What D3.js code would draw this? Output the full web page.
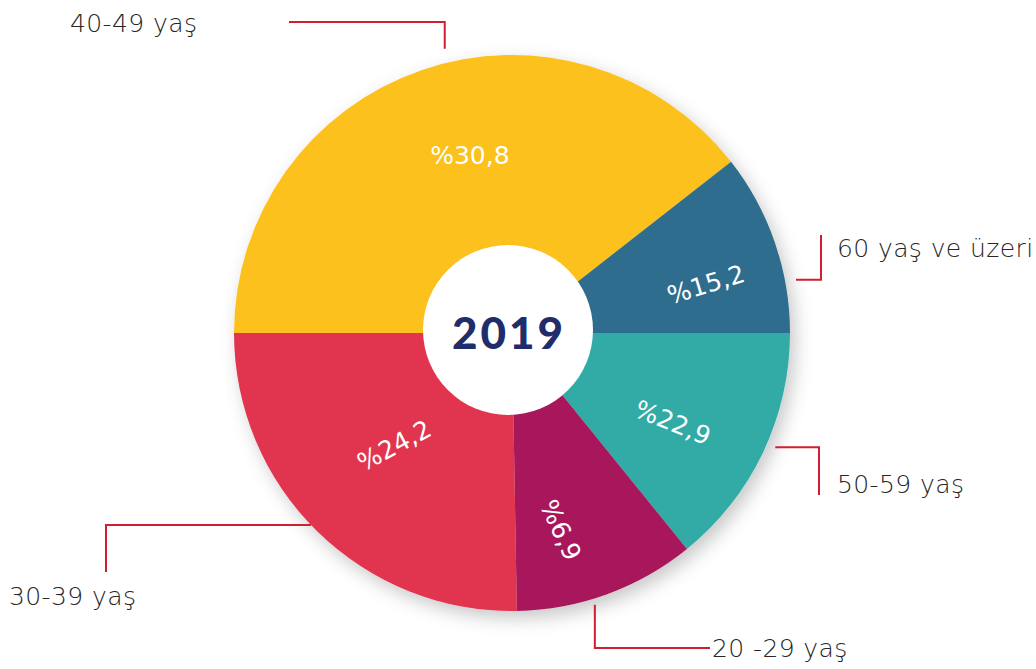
<!DOCTYPE html>
<html>
<head>
<meta charset="utf-8">
<script src="https://cdn.jsdelivr.net/npm/d3@7"></script>
<style>
  body { margin: 0; background: #fff; }
  svg { display: block; }
</style>
</head>
<body>
<div id="chart"></div>
<script>
// age groups, clockwise from the left edge of the pie
var categories = ["40-49 yaş", "60 yaş ve üzeri", "50-59 yaş", "20 -29 yaş", "30-39 yaş"];
var shares = [30.8, 15.2, 22.9, 6.9, 24.2];
// the infographic is not drawn to scale: slice sizes in degrees
var sliceDegrees = [142, 38, 51, 38, 91];
var year = "2019";

var colours = ["#FCC11F", "#2F6D8D", "#33ABA6", "#A8185B", "#E1344F"];

var width = 1036, height = 669;
var cx = 512, cy = 333, radius = 278, holeRadius = 85;

// label layout (style, not data)
var tilt = [0, -17, 22, 65, -28];
var labelPos = [
    {at: 0.54, r: 183},
    {at: 0.63, r: 200},
    {at: 0.57, r: 184},
    {at: 0.66, r: 203},
    {at: 0.52, r: 163}
];
var leaders = [
    {at: 0.54, gap: 14, type: "vh", a: 22, b: 289, tx: 70, ty: 32},
    {at: 0.72, gap: 11, type: "hv", a: 821, b: 235, tx: 837, ty: 257},
    {at: 0.46, gap: 9, type: "hv", a: 819, b: 495, tx: 837, ty: 493},
    {at: 0.58, gap: 6, type: "vh", a: 648, b: 710, tx: 712, ty: 657},
    {at: 0.52, gap: 0, type: "hv", a: 106, b: 572, tx: 9, ty: 605}
];

var rows = categories.map(function (c, i) {
    return {name: c, share: shares[i], deg: sliceDegrees[i], i: i};
});

var svg = d3.select("#chart").append("svg")
    .attr("width", width)
    .attr("height", height);

svg.append("rect").attr("width", width).attr("height", height).attr("fill", "#fff");

var defs = svg.append("defs");
defs.append("filter")
    .attr("id", "shadow")
    .attr("x", "-20%").attr("y", "-20%").attr("width", "140%").attr("height", "140%")
    .append("feDropShadow")
    .attr("dx", 5).attr("dy", 7)
    .attr("stdDeviation", 9)
    .attr("flood-color", "#000")
    .attr("flood-opacity", 0.22);

var pie = d3.pie()
    .sort(null)
    .value(function (d) { return d.deg; })
    .startAngle(-Math.PI / 2)
    .endAngle(Math.PI * 1.5);

var arcs = pie(rows);

var arc = d3.arc().innerRadius(0).outerRadius(radius);

var g = svg.append("g")
    .attr("transform", "translate(" + cx + "," + cy + ")");

g.append("g")
    .attr("filter", "url(#shadow)")
    .selectAll("path")
    .data(arcs)
    .enter().append("path")
    .attr("d", arc)
    .attr("fill", function (d) { return colours[d.data.i]; });

// white hole with the year
g.append("circle")
    .attr("cx", -4).attr("cy", -3)
    .attr("r", holeRadius)
    .attr("fill", "#fff");

g.append("text")
    .attr("x", -3).attr("y", 16)
    .attr("text-anchor", "middle")
    .style("font-family", "Lato, 'DejaVu Sans', sans-serif")
    .style("font-weight", 900)
    .style("font-size", "44px")
    .style("letter-spacing", "3px")
    .style("fill", "#1F2D6B")
    .text(year);

function pointAt(angle, r) {
    return [r * Math.sin(angle), -r * Math.cos(angle)];
}

// percentages inside the slices
g.selectAll(".pct")
    .data(arcs)
    .enter().append("text")
    .attr("class", "pct")
    .attr("transform", function (d) {
        var P = labelPos[d.data.i];
        var c = pointAt(d.startAngle + P.at * (d.endAngle - d.startAngle), P.r);
        return "translate(" + c[0] + "," + c[1] + ") rotate(" + tilt[d.data.i] + ")";
    })
    .attr("text-anchor", "middle")
    .attr("dy", "0.35em")
    .style("font-family", "'DejaVu Sans', sans-serif")
    .style("font-size", "25px")
    .style("fill", "#fff")
    .text(function (d) { return "%" + String(d.data.share).replace(".", ","); });

// leader lines and outside labels
arcs.forEach(function (d) {
    var L = leaders[d.data.i];
    var ang = d.startAngle + L.at * (d.endAngle - d.startAngle);
    var q = pointAt(ang, radius + L.gap);
    var p = [cx + q[0], cy + q[1]];
    var pts;
    if (L.type === "hv") pts = [p, [L.a, p[1]], [L.a, L.b]];
    else pts = [p, [p[0], L.a], [L.b, L.a]];

    svg.append("path")
        .attr("d", d3.line()(pts))
        .attr("fill", "none")
        .attr("stroke", "#CF1F32")
        .attr("stroke-width", 2);

    svg.append("text")
        .attr("x", L.tx).attr("y", L.ty)
        .style("font-family", "'DejaVu Sans', sans-serif")
        .style("font-weight", 300)
        .style("font-size", "25px")
        .style("letter-spacing", "0.4px")
        .style("fill", "#262626")
        .text(d.data.name);
});
</script>
</body>
</html>
